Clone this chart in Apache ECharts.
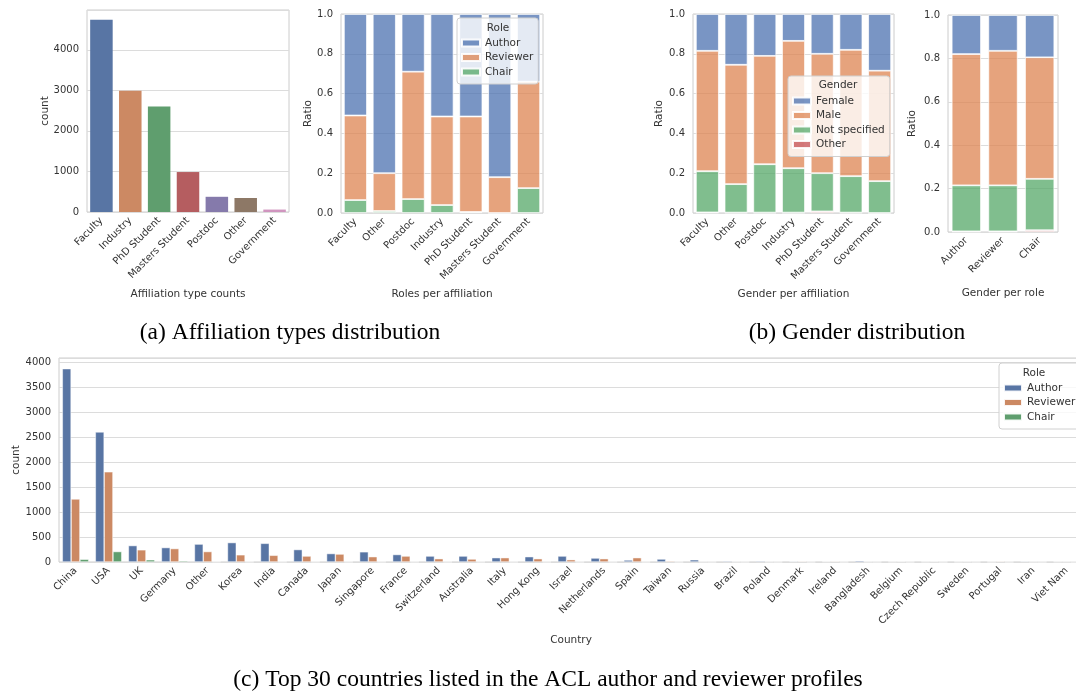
<!DOCTYPE html>
<html>
<head>
<meta charset="utf-8">
<script src="https://cdn.jsdelivr.net/npm/echarts@6/dist/echarts.min.js"></script>
<style>
html, body { margin: 0; padding: 0; background: #fff; }
#main { width: 1076px; height: 693px; }
</style>
</head>
<body>
<div id="main"></div>
<script>
// (a) affiliation counts
var affTypes = ['Faculty', 'Industry', 'PhD Student', 'Masters Student', 'Postdoc', 'Other', 'Government'];
var affCounts = [4740, 2990, 2600, 985, 375, 345, 60];

// (a) roles per affiliation (ratios)
var roleAff = ['Faculty', 'Other', 'Postdoc', 'Industry', 'PhD Student', 'Masters Student', 'Government'];
var roleAuthor   = [0.51, 0.80, 0.29, 0.515, 0.515, 0.82, 0.34];
var roleReviewer = [0.425, 0.19, 0.64, 0.445, 0.48, 0.18, 0.535];
var roleChair    = [0.065, 0.01, 0.07, 0.04, 0.005, 0.0, 0.125];

// (b) gender per affiliation (ratios)
var genderAff = ['Faculty', 'Other', 'Postdoc', 'Industry', 'PhD Student', 'Masters Student', 'Government'];
var gaFemale = [0.185, 0.255, 0.21, 0.135, 0.20, 0.18, 0.285];
var gaMale   = [0.605, 0.60, 0.545, 0.64, 0.60, 0.635, 0.555];
var gaNotSp  = [0.207, 0.143, 0.243, 0.223, 0.192, 0.183, 0.16];
var gaOther  = [0.003, 0.002, 0.002, 0.002, 0.008, 0.002, 0.0];

// (b) gender per role (ratios)
var roles = ['Author', 'Reviewer', 'Chair'];
var grFemale = [0.18, 0.165, 0.195];
var grMale   = [0.605, 0.62, 0.56];
var grNotSp  = [0.212, 0.212, 0.237];
var grOther  = [0.003, 0.003, 0.008];

// (c) top countries
var countries = ['China', 'USA', 'UK', 'Germany', 'Other', 'Korea', 'India', 'Canada', 'Japan', 'Singapore',
  'France', 'Switzerland', 'Australia', 'Italy', 'Hong Kong', 'Israel', 'Netherlands', 'Spain', 'Taiwan', 'Russia',
  'Brazil', 'Poland', 'Denmark', 'Ireland', 'Bangladesh', 'Belgium', 'Czech Republic', 'Sweden', 'Portugal', 'Iran', 'Viet Nam'];
var cAuthor   = [3880, 2610, 330, 290, 360, 390, 375, 250, 170, 205, 150, 120, 120, 87, 107, 120, 80, 40, 60, 45,
  20, 20, 15, 10, 25, 5, 5, 5, 3, 15, 8];
var cReviewer = [1265, 1810, 245, 270, 210, 145, 135, 120, 160, 107, 120, 67, 60, 87, 67, 47, 67, 87, 20, 5,
  5, 5, 15, 15, 5, 10, 10, 8, 15, 3, 8];
var cChair    = [55, 210, 45, 25, 8, 4, 4, 4, 3, 3, 3, 2, 3, 2, 2, 1, 2, 1, 1, 1,
  1, 1, 1, 1, 1, 1, 1, 1, 1, 1, 1];

var txt = '#333';
var fam = 'DejaVu Sans';
var paletteA = ['#5875a4', '#cc8963', '#5f9e6e', '#b55d60', '#857aab', '#8d7866', '#d095bf'];
var aBlue = 'rgba(76,114,176,0.75)', aOrange = 'rgba(221,132,82,0.75)',
    aGreen = 'rgba(85,168,104,0.75)', aRed = 'rgba(196,78,82,0.75)';

function catAxis(gi, data, name, gap) {
  return {
    gridIndex: gi, type: 'category', data: data,
    axisLine: { show: false }, axisTick: { show: false },
    axisLabel: { rotate: 45, interval: 0, fontSize: 10, color: txt, fontFamily: fam, margin: 7 },
    name: name, nameLocation: 'middle', nameGap: gap, nameMoveOverlap: false,
    nameTextStyle: { fontSize: 10.5, color: txt, fontFamily: fam }
  };
}
function valAxis(gi, max, interval, name, gap, ratio) {
  return {
    gridIndex: gi, type: 'value', min: 0, max: max, interval: interval,
    axisLine: { show: false }, axisTick: { show: false },
    splitLine: { lineStyle: { color: '#dcdcdc', width: 1 } },
    axisLabel: {
      fontSize: 10, color: txt, fontFamily: fam, margin: 8, showMaxLabel: ratio ? true : false,
      formatter: function (v) { return ratio ? v.toFixed(1) : String(v); }
    },
    name: name, nameLocation: 'middle', nameGap: gap, nameMoveOverlap: false,
    nameTextStyle: { fontSize: 10.5, color: txt, fontFamily: fam }
  };
}
function stackBar(name, xi, data, color, stack) {
  return {
    name: name, type: 'bar', xAxisIndex: xi, yAxisIndex: xi, stack: stack, data: data,
    barCategoryGap: '20%',
    itemStyle: { color: color, borderColor: 'rgba(255,255,255,0.9)', borderWidth: 0.8 }
  };
}
function cBar(name, data, color) {
  return {
    name: name, type: 'bar', xAxisIndex: 4, yAxisIndex: 4, data: data,
    barGap: '0%', barCategoryGap: '20%',
    itemStyle: { color: color, borderColor: 'rgba(255,255,255,0.8)', borderWidth: 0.6 }
  };
}
function legendBox(items, left, top) {
  return {
    data: items, orient: 'vertical', left: left, top: top, icon: 'rect',
    itemWidth: 18, itemHeight: 7, itemGap: 0.5, selectedMode: false,
    padding: [18, 5, 5, 4], backgroundColor: 'rgba(255,255,255,0.8)',
    borderColor: '#d0d0d0', borderWidth: 1, borderRadius: 3,
    textStyle: { fontSize: 10.5, color: txt, fontFamily: fam, lineHeight: 14 }
  };
}
function label(text, x, y, size, font, color) {
  return {
    type: 'text', x: x, y: y, z: 100,
    style: { text: text, fontSize: size, fontFamily: font, fill: color, align: 'center', verticalAlign: 'middle' }
  };
}

var chart = echarts.init(document.getElementById('main'), null, { renderer: 'canvas' });

var grid = function (l, t, w, h) {
  return { left: l, top: t, width: w, height: h, show: true, borderColor: '#cccccc', borderWidth: 1,
    containLabel: false, outerBoundsMode: 'none' };
};

var option = {
  backgroundColor: '#fff',
  animation: false,
  grid: [
    grid(87, 10, 202, 202),
    grid(341, 14, 202, 199),
    grid(693, 14, 201, 199),
    grid(948, 15, 110, 217),
    grid(59, 358, 1024, 204)
  ],
  xAxis: [
    catAxis(0, affTypes, 'Affiliation type counts', 77),
    catAxis(1, roleAff, 'Roles per affiliation', 76),
    catAxis(2, genderAff, 'Gender per affiliation', 76),
    catAxis(3, roles, 'Gender per role', 56),
    catAxis(4, countries, 'Country', 73)
  ],
  yAxis: [
    valAxis(0, 4980, 1000, 'count', 36, false),
    valAxis(1, 1, 0.2, 'Ratio', 27, true),
    valAxis(2, 1, 0.2, 'Ratio', 28, true),
    valAxis(3, 1, 0.2, 'Ratio', 30, true),
    valAxis(4, 4094, 500, 'count', 37, false)
  ],
  legend: [
    legendBox([
      { name: 'Author', itemStyle: { color: aBlue } },
      { name: 'Reviewer', itemStyle: { color: aOrange } },
      { name: 'Chair', itemStyle: { color: aGreen } }
    ], 457, 18),
    legendBox([
      { name: 'Female', itemStyle: { color: aBlue } },
      { name: 'Male', itemStyle: { color: aOrange } },
      { name: 'Not specified', itemStyle: { color: aGreen } },
      { name: 'Other', itemStyle: { color: aRed } }
    ], 788, 76),
    legendBox([
      { name: 'Author', itemStyle: { color: paletteA[0] } },
      { name: 'Reviewer', itemStyle: { color: paletteA[1] } },
      { name: 'Chair', itemStyle: { color: paletteA[2] } }
    ], 999, 363)
  ],
  series: [
    {
      type: 'bar', xAxisIndex: 0, yAxisIndex: 0, barCategoryGap: '22%',
      data: affCounts.map(function (v, i) { return { value: v, itemStyle: { color: paletteA[i] } }; })
    },
    stackBar('Chair', 1, roleChair, aGreen, 'r'),
    stackBar('Reviewer', 1, roleReviewer, aOrange, 'r'),
    stackBar('Author', 1, roleAuthor, aBlue, 'r'),
    stackBar('Other', 2, gaOther, aRed, 'g'),
    stackBar('Not specified', 2, gaNotSp, aGreen, 'g'),
    stackBar('Male', 2, gaMale, aOrange, 'g'),
    stackBar('Female', 2, gaFemale, aBlue, 'g'),
    stackBar('Other', 3, grOther, aRed, 'gr'),
    stackBar('Not specified', 3, grNotSp, aGreen, 'gr'),
    stackBar('Male', 3, grMale, aOrange, 'gr'),
    stackBar('Female', 3, grFemale, aBlue, 'gr'),
    cBar('Author', cAuthor, paletteA[0]),
    cBar('Reviewer', cReviewer, paletteA[1]),
    cBar('Chair', cChair, paletteA[2])
  ],
  graphic: [
    label('Role', 498, 28, 10.5, fam, txt),
    label('Gender', 838, 85, 10.5, fam, txt),
    label('Role', 1034, 373, 10.5, fam, txt),
    label('(a) Affiliation types distribution', 290, 333, 23.5, 'Liberation Serif', '#000'),
    label('(b) Gender distribution', 857, 333, 23.5, 'Liberation Serif', '#000'),
    label('(c) Top 30 countries listed in the ACL author and reviewer profiles', 548, 680, 23.5, 'Liberation Serif', '#000')
  ]
};

chart.setOption(option);
window.addEventListener('resize', function () { chart.resize(); });
</script>
</body>
</html>
